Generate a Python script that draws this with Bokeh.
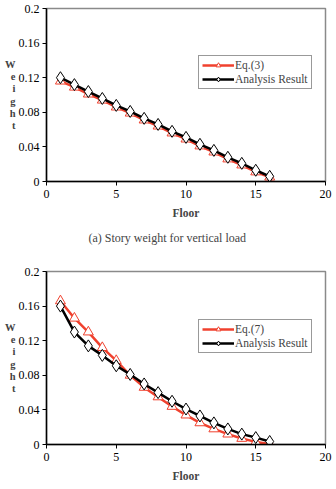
from bokeh.plotting import figure
from bokeh.models import Legend, LegendItem, FixedTicker, Range1d, Title
from bokeh.layouts import column
from bokeh.embed import file_html
from bokeh.resources import INLINE

floors = [1, 2, 3, 4, 5, 6, 7, 8, 9, 10, 11, 12, 13, 14, 15, 16]
eq3 = [0.116, 0.109, 0.101, 0.094, 0.086, 0.079, 0.071, 0.064, 0.056, 0.049, 0.041, 0.034, 0.026, 0.019, 0.011, 0.005]
analysis_a = [0.120, 0.112, 0.104, 0.096, 0.088, 0.081, 0.073, 0.066, 0.058, 0.051, 0.043, 0.036, 0.028, 0.021, 0.013, 0.006]
eq7 = [0.166, 0.146, 0.130, 0.112, 0.097, 0.080, 0.066, 0.055, 0.044, 0.034, 0.025, 0.018, 0.012, 0.007, 0.003, 0.0005]
analysis_b = [0.160, 0.130, 0.114, 0.103, 0.091, 0.081, 0.070, 0.060, 0.050, 0.041, 0.033, 0.025, 0.018, 0.012, 0.008, 0.0035]

x_ticks = [0, 5, 10, 15, 20]
y_ticks = [0, 0.04, 0.08, 0.12, 0.16, 0.2]
y_tick_labels = ["0", "0.04", "0.08", "0.12", "0.16", "0.2"]
ylabel_letters = ["W", "e", "i", "g", "h", "t"]
caption = "(a) Story weight for vertical load"

FONT = "Liberation Serif"
RED = "#f0412e"


def make_fig(height, top, bottom, eq_vals, an_vals, eq_label):
    p = figure(width=336, height=height, output_backend="svg", toolbar_location=None,
               x_range=Range1d(0, 20), y_range=Range1d(0, 0.2),
               min_border_left=46, min_border_right=11,
               min_border_top=top, min_border_bottom=bottom)
    p.xgrid.visible = False
    p.ygrid.visible = False
    p.outline_line_color = "#8a8a8a"
    p.outline_line_width = 1.5
    p.background_fill_color = "white"
    for ax in (p.xaxis[0], p.yaxis[0]):
        ax.axis_line_color = "black"
        ax.axis_line_width = 1.5
        ax.major_tick_line_color = "black"
        ax.major_tick_out = 4
        ax.major_tick_in = 0
        ax.minor_tick_line_color = None
        ax.major_label_text_font = FONT
        ax.major_label_text_font_size = "12px"
        ax.major_label_text_color = "black"
    p.xaxis.ticker = FixedTicker(ticks=x_ticks)
    p.yaxis.ticker = FixedTicker(ticks=y_ticks)
    p.yaxis.major_label_overrides = {t: s for t, s in zip(y_ticks, y_tick_labels)}
    p.xaxis.major_label_standoff = 4
    p.yaxis.major_label_standoff = 3
    p.xaxis.axis_label = "Floor"
    p.xaxis.axis_label_text_font = FONT
    p.xaxis.axis_label_text_font_style = "bold"
    p.xaxis.axis_label_text_font_size = "11.5px"
    p.xaxis.axis_label_standoff = 6
    p.yaxis.axis_label = "\n".join(ylabel_letters)
    p.yaxis.axis_label_orientation = "horizontal"
    p.yaxis.axis_label_text_font = FONT
    p.yaxis.axis_label_text_font_style = "bold"
    p.yaxis.axis_label_text_font_size = "10.5px"
    p.yaxis.axis_label_standoff = 0
    p.yaxis.axis_label_text_line_height = 1.1

    r1 = p.line(floors, eq_vals, line_color=RED, line_width=2.5)
    r2 = p.scatter(floors, eq_vals, marker="triangle", size=10, line_color=RED,
                   fill_color="white", line_width=1)
    r3 = p.line(floors, an_vals, line_color="black", line_width=2.5)
    r4 = p.scatter(floors, an_vals, marker="diamond", size=12, line_color="black",
                   fill_color="white", line_width=1)

    legend = Legend(items=[LegendItem(label=eq_label, renderers=[r1, r2]),
                           LegendItem(label="Analysis Result", renderers=[r3, r4])],
                    location=(152, 0), label_text_font=FONT, label_text_font_size="11.5px",
                    glyph_width=32, glyph_height=12, label_height=12, label_standoff=1,
                    spacing=2, padding=3, margin=0, border_line_color="#333333",
                    border_line_width=1.2, background_fill_alpha=1)
    p.add_layout(legend, "center")
    return p, legend


p1, lg1 = make_fig(258, 8, 77, eq3, analysis_a, "Eq.(3)")
lg1.location = (152, 92)
p1.add_layout(Title(text=caption, align="left", text_font=FONT, text_font_size="12px",
                    text_font_style="normal", offset=42, standoff=14), "below")

p2, lg2 = make_fig(231, 13, 45, eq7, analysis_b, "Eq.(7)")
lg2.location = (152, 91)

layout = column(p1, p2, spacing=0)
open("out.html", "w").write(file_html(layout, INLINE))
